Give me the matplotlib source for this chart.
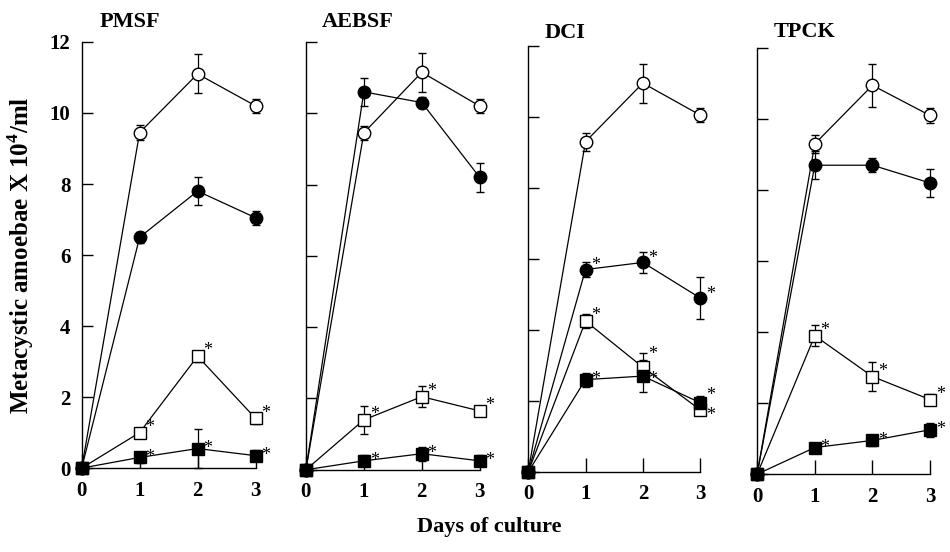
import matplotlib.pyplot as plt

plt.rcParams['font.family'] = ['Liberation Serif', 'DejaVu Serif']
plt.rcParams['font.weight'] = 'bold'
plt.rcParams['mathtext.fontset'] = 'custom'
plt.rcParams['mathtext.bf'] = 'Liberation Serif:bold'

days = [0, 1, 2, 3]
panels = ['PMSF', 'AEBSF', 'DCI', 'TPCK']

# control (open circle)
ctrl = {
    'PMSF': [0, 9.45, 11.1, 10.2],
    'AEBSF': [0, 9.45, 11.15, 10.2],
    'DCI': [0, 9.3, 10.95, 10.05],
    'TPCK': [0, 9.3, 10.95, 10.1],
}
ctrl_err = {
    'PMSF': [0, 0.2, 0.55, 0.2],
    'AEBSF': [0, 0.2, 0.55, 0.2],
    'DCI': [0, 0.25, 0.55, 0.2],
    'TPCK': [0, 0.25, 0.6, 0.2],
}
# filled circle
low = {
    'PMSF': [0, 6.5, 7.8, 7.05],
    'AEBSF': [0, 10.6, 10.3, 8.2],
    'DCI': [0, 5.7, 5.9, 4.9],
    'TPCK': [0, 8.7, 8.7, 8.2],
}
low_err = {
    'PMSF': [0, 0.15, 0.4, 0.2],
    'AEBSF': [0, 0.4, 0.15, 0.4],
    'DCI': [0, 0.2, 0.3, 0.6],
    'TPCK': [0, 0.4, 0.2, 0.4],
}
# open square
mid = {
    'PMSF': [0, 1.0, 3.15, 1.4],
    'AEBSF': [0, 1.4, 2.05, 1.65],
    'DCI': [0, 4.25, 2.95, 1.75],
    'TPCK': [0, 3.9, 2.75, 2.1],
}
mid_err = {
    'PMSF': [0, 0.1, 0.15, 0.15],
    'AEBSF': [0, 0.4, 0.3, 0.15],
    'DCI': [0, 0.2, 0.4, 0.15],
    'TPCK': [0, 0.3, 0.4, 0.15],
}
# filled square
high = {
    'PMSF': [0, 0.3, 0.55, 0.35],
    'AEBSF': [0, 0.25, 0.45, 0.25],
    'DCI': [0, 2.6, 2.7, 1.95],
    'TPCK': [0, 0.75, 0.95, 1.25],
}
high_err = {
    'PMSF': [0, 0.15, 0.55, 0.15],
    'AEBSF': [0, 0.15, 0.2, 0.15],
    'DCI': [0, 0.2, 0.45, 0.2],
    'TPCK': [0, 0.12, 0.15, 0.2],
}
# which series get an asterisk
star_low = {'PMSF': False, 'AEBSF': False, 'DCI': True, 'TPCK': False}

# axes boxes (left, bottom, width, height) in figure fraction
boxes = [
    (0.086, 0.152, 0.183, 0.772),
    (0.322, 0.149, 0.183, 0.775),
    (0.556, 0.145, 0.181, 0.772),
    (0.797, 0.141, 0.182, 0.772),
]
# title centres in pixels (x, y from top)
title_pos = [(130, 22), (358, 22), (565, 33), (805, 32)]

fig = plt.figure(figsize=(9.5, 5.52), dpi=100)


def draw(ax, y, e, marker, face, star, dy=(0.1, 0.1, 0.1)):
    ax.errorbar(days, y, yerr=e, color='black', marker=marker, ms=9,
                mfc=face, mec='black', mew=1.0, lw=0.9, elinewidth=0.9,
                capsize=3, capthick=0.9, clip_on=False, zorder=3)
    if star:
        for d, v, off in zip(days[1:], y[1:], dy):
            ax.text(d + 0.1, v + off, '*', fontsize=13, fontweight='normal',
                    ha='left', va='center')


for name, box, tp in zip(panels, boxes, title_pos):
    ax = fig.add_axes(box)
    draw(ax, ctrl[name], ctrl_err[name], 'o', 'white', False)
    draw(ax, low[name], low_err[name], 'o', 'black', star_low[name])
    if name == 'DCI':
        # crowded points: push the asterisks apart
        draw(ax, mid[name], mid_err[name], 's', 'white', True, (0.15, 0.35, -0.15))
        draw(ax, high[name], high_err[name], 's', 'black', True, (0.0, -0.1, 0.2))
    else:
        draw(ax, mid[name], mid_err[name], 's', 'white', True, (0.15, 0.15, 0.15))
        draw(ax, high[name], high_err[name], 's', 'black', True, (0.0, 0.0, 0.0))

    ax.set_xlim(0, 3)
    ax.set_ylim(0, 12)
    ax.set_xticks(days)
    ax.set_yticks([0, 2, 4, 6, 8, 10, 12])
    ax.spines['top'].set_visible(False)
    ax.spines['right'].set_visible(False)
    for s in ['left', 'bottom']:
        ax.spines[s].set_linewidth(1.0)
    ax.tick_params(direction='in', width=1.0, labelsize=15)
    ax.tick_params(axis='x', length=10, pad=9)
    ax.tick_params(axis='y', length=8, pad=8)
    if name != 'PMSF':
        ax.set_yticklabels([])
    fig.text(tp[0] / 950, 1 - tp[1] / 552, name, fontsize=16,
             fontweight='bold', ha='center', va='center')

fig.axes[0].set_ylabel('Metacystic amoebae X 10$^{\\mathbf{4}}$/ml',
                       fontsize=18, fontweight='bold', labelpad=10)
fig.text(0.515, 0.045, 'Days of culture', fontsize=16, fontweight='bold',
         ha='center', va='center')

fig.savefig('out.png', dpi=100)
